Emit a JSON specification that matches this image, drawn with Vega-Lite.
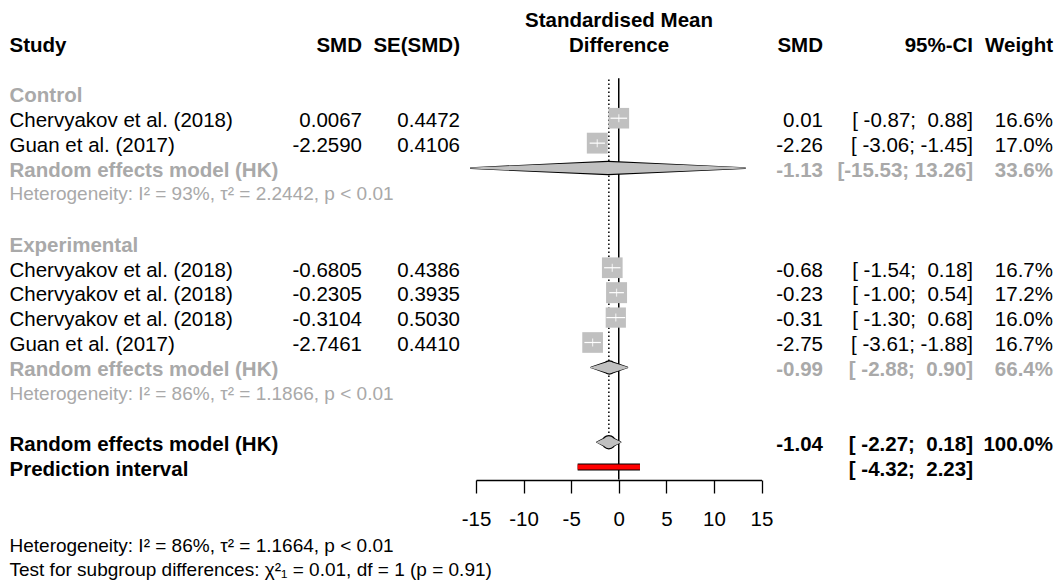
{
  "$schema": "https://vega.github.io/schema/vega-lite/v6.json",
  "width": 1063,
  "height": 586,
  "autosize": {"type": "fit", "contains": "padding"},
  "padding": 0,
  "background": "#ffffff",
  "config": {"view": {"stroke": null}, "font": "Liberation Sans"},
  "datasets": {
    "studies": [
      {"r": 1, "study": "Chervyakov et al. (2018)", "est": 0.0067, "lo": -0.87, "hi": 0.88, "w": 16.6},
      {"r": 2, "study": "Guan et al. (2017)", "est": -2.259, "lo": -3.06, "hi": -1.45, "w": 17.0},
      {"r": 7, "study": "Chervyakov et al. (2018)", "est": -0.6805, "lo": -1.54, "hi": 0.18, "w": 16.7},
      {"r": 8, "study": "Chervyakov et al. (2018)", "est": -0.2305, "lo": -1.0, "hi": 0.54, "w": 17.2},
      {"r": 9, "study": "Chervyakov et al. (2018)", "est": -0.3104, "lo": -1.3, "hi": 0.68, "w": 16.0},
      {"r": 10, "study": "Guan et al. (2017)", "est": -2.7461, "lo": -3.61, "hi": -1.88, "w": 16.7}
    ],
    "pooled": [
      {"r": 3, "k": "subtotal", "est": -1.13, "lo": -15.53, "hi": 13.26},
      {"r": 11, "k": "subtotal", "est": -0.99, "lo": -2.88, "hi": 0.9},
      {"r": 14, "k": "total", "est": -1.04, "lo": -2.27, "hi": 0.18}
    ],
    "pred": [
      {"r": 15, "lo": -4.32, "hi": 2.23}
    ],
    "cells": [
      {"r": -3, "c": 3, "t": "Standardised Mean", "k": "header"},
      {"r": -2, "c": 0, "t": "Study", "k": "header"},
      {"r": -2, "c": 1, "t": "SMD", "k": "header"},
      {"r": -2, "c": 2, "t": "SE(SMD)", "k": "header"},
      {"r": -2, "c": 3, "t": "Difference", "k": "header"},
      {"r": -2, "c": 4, "t": "SMD", "k": "header"},
      {"r": -2, "c": 5, "t": "95%-CI", "k": "header"},
      {"r": -2, "c": 6, "t": "Weight", "k": "header"},
      {"r": 0, "c": 0, "t": "Control", "k": "group"},
      {"r": 1, "c": 0, "t": "Chervyakov et al. (2018)", "k": "study"},
      {"r": 1, "c": 1, "t": "0.0067", "k": "study"},
      {"r": 1, "c": 2, "t": "0.4472", "k": "study"},
      {"r": 1, "c": 4, "t": "0.01", "k": "study"},
      {"r": 1, "c": 5, "t": "[\u00a0-0.87;\u00a0\u00a00.88]", "k": "study"},
      {"r": 1, "c": 6, "t": "16.6%", "k": "study"},
      {"r": 2, "c": 0, "t": "Guan et al. (2017)", "k": "study"},
      {"r": 2, "c": 1, "t": "-2.2590", "k": "study"},
      {"r": 2, "c": 2, "t": "0.4106", "k": "study"},
      {"r": 2, "c": 4, "t": "-2.26", "k": "study"},
      {"r": 2, "c": 5, "t": "[\u00a0-3.06;\u00a0-1.45]", "k": "study"},
      {"r": 2, "c": 6, "t": "17.0%", "k": "study"},
      {"r": 3, "c": 0, "t": "Random effects model (HK)", "k": "subtotal"},
      {"r": 3, "c": 4, "t": "-1.13", "k": "subtotal"},
      {"r": 3, "c": 5, "t": "[-15.53;\u00a013.26]", "k": "subtotal"},
      {"r": 3, "c": 6, "t": "33.6%", "k": "subtotal"},
      {"r": 4, "c": 0, "t": "Heterogeneity: I² = 93%, τ² = 2.2442, p < 0.01", "k": "subhet"},
      {"r": 6, "c": 0, "t": "Experimental", "k": "group"},
      {"r": 7, "c": 0, "t": "Chervyakov et al. (2018)", "k": "study"},
      {"r": 7, "c": 1, "t": "-0.6805", "k": "study"},
      {"r": 7, "c": 2, "t": "0.4386", "k": "study"},
      {"r": 7, "c": 4, "t": "-0.68", "k": "study"},
      {"r": 7, "c": 5, "t": "[\u00a0-1.54;\u00a0\u00a00.18]", "k": "study"},
      {"r": 7, "c": 6, "t": "16.7%", "k": "study"},
      {"r": 8, "c": 0, "t": "Chervyakov et al. (2018)", "k": "study"},
      {"r": 8, "c": 1, "t": "-0.2305", "k": "study"},
      {"r": 8, "c": 2, "t": "0.3935", "k": "study"},
      {"r": 8, "c": 4, "t": "-0.23", "k": "study"},
      {"r": 8, "c": 5, "t": "[\u00a0-1.00;\u00a0\u00a00.54]", "k": "study"},
      {"r": 8, "c": 6, "t": "17.2%", "k": "study"},
      {"r": 9, "c": 0, "t": "Chervyakov et al. (2018)", "k": "study"},
      {"r": 9, "c": 1, "t": "-0.3104", "k": "study"},
      {"r": 9, "c": 2, "t": "0.5030", "k": "study"},
      {"r": 9, "c": 4, "t": "-0.31", "k": "study"},
      {"r": 9, "c": 5, "t": "[\u00a0-1.30;\u00a0\u00a00.68]", "k": "study"},
      {"r": 9, "c": 6, "t": "16.0%", "k": "study"},
      {"r": 10, "c": 0, "t": "Guan et al. (2017)", "k": "study"},
      {"r": 10, "c": 1, "t": "-2.7461", "k": "study"},
      {"r": 10, "c": 2, "t": "0.4410", "k": "study"},
      {"r": 10, "c": 4, "t": "-2.75", "k": "study"},
      {"r": 10, "c": 5, "t": "[\u00a0-3.61;\u00a0-1.88]", "k": "study"},
      {"r": 10, "c": 6, "t": "16.7%", "k": "study"},
      {"r": 11, "c": 0, "t": "Random effects model (HK)", "k": "subtotal"},
      {"r": 11, "c": 4, "t": "-0.99", "k": "subtotal"},
      {"r": 11, "c": 5, "t": "[\u00a0-2.88;\u00a0\u00a00.90]", "k": "subtotal"},
      {"r": 11, "c": 6, "t": "66.4%", "k": "subtotal"},
      {"r": 12, "c": 0, "t": "Heterogeneity: I² = 86%, τ² = 1.1866, p < 0.01", "k": "subhet"},
      {"r": 14, "c": 0, "t": "Random effects model (HK)", "k": "total"},
      {"r": 14, "c": 4, "t": "-1.04", "k": "total"},
      {"r": 14, "c": 5, "t": "[\u00a0-2.27;\u00a0\u00a00.18]", "k": "total"},
      {"r": 14, "c": 6, "t": "100.0%", "k": "total"},
      {"r": 15, "c": 0, "t": "Prediction interval", "k": "pred"},
      {"r": 15, "c": 5, "t": "[\u00a0-4.32;\u00a0\u00a02.23]", "k": "pred"},
      {"r": 18.1, "c": 0, "t": "Heterogeneity: I² = 86%, τ² = 1.1664, p < 0.01", "k": "footer"},
      {"r": 19.05, "c": 0, "t": "Test for subgroup differences: χ²₁ = 0.01, df = 1 (p = 0.91)", "k": "footer"}
    ]
  },
  "resolve": {"scale": {"x": "independent", "size": "independent", "color": "independent"}},
  "layer": [
    {
      "data": {"values": [{"ref": 0}]},
      "mark": {"type": "rule", "color": "#000000", "strokeWidth": 1.5},
      "encoding": {
        "x": {"field": "ref", "type": "quantitative", "scale": {"domain": [-15, 15], "range": [476, 761.5], "nice": false, "zero": false}, "axis": null},
        "y": {"datum": -0.6, "type": "quantitative", "scale": {"domain": [-4, 20], "range": [-6.38, 591.7], "nice": false, "zero": false}, "axis": null},
        "y2": {"datum": 15.5}
      }
    },
    {
      "data": {"name": "pooled"},
      "transform": [{"filter": "datum.k == 'total'"}],
      "mark": {"type": "rule", "color": "#000000", "strokeWidth": 1.5, "strokeDash": [1.5, 2.5]},
      "encoding": {
        "x": {"field": "est", "type": "quantitative", "scale": {"domain": [-15, 15], "range": [476, 761.5], "nice": false, "zero": false}, "axis": null},
        "y": {"datum": -0.55, "type": "quantitative"},
        "y2": {"datum": 13.72}
      }
    },
    {
      "data": {"name": "studies"},
      "mark": {"type": "square", "filled": true, "color": "#c0c0c0", "opacity": 1},
      "encoding": {
        "x": {"field": "est", "type": "quantitative", "scale": {"domain": [-15, 15], "range": [476, 761.5], "nice": false, "zero": false},
          "axis": {"values": [-15, -10, -5, 0, 5, 10, 15], "orient": "bottom", "offset": -106, "title": null, "grid": false,
            "domainColor": "#000000", "domainWidth": 1.3, "tickColor": "#000000", "tickWidth": 1.3, "tickSize": 13,
            "labelFont": "Liberation Sans", "labelFontSize": 20.5, "labelColor": "#000000", "labelPadding": 16,
            "labelExpr": "'' + datum.value",
            "labelFlush": false, "labelOverlap": false}},
        "y": {"field": "r", "type": "quantitative"},
        "size": {"field": "w", "type": "quantitative", "scale": {"domain": [0, 20], "range": [0, 512]}, "legend": null}
      }
    },
    {
      "data": {"name": "studies"},
      "mark": {"type": "rule", "color": "#ffffff", "strokeWidth": 1.2},
      "encoding": {
        "x": {"field": "lo", "type": "quantitative", "scale": {"domain": [-15, 15], "range": [476, 761.5], "nice": false, "zero": false}, "axis": null},
        "x2": {"field": "hi"},
        "y": {"field": "r", "type": "quantitative"}
      }
    },
    {
      "data": {"name": "studies"},
      "mark": {"type": "tick", "orient": "vertical", "color": "#ffffff", "size": 8, "thickness": 1.2},
      "encoding": {
        "x": {"field": "est", "type": "quantitative", "scale": {"domain": [-15, 15], "range": [476, 761.5], "nice": false, "zero": false}, "axis": null},
        "y": {"field": "r", "type": "quantitative"}
      }
    },
    {
      "data": {"name": "pooled"},
      "transform": [{"fold": ["lo", "est", "hi"], "as": ["pt", "v"]}],
      "mark": {"type": "trail", "color": "#000000"},
      "encoding": {
        "x": {"field": "v", "type": "quantitative", "scale": {"domain": [-15, 15], "range": [476, 761.5], "nice": false, "zero": false}, "axis": null},
        "y": {"field": "r", "type": "quantitative"},
        "detail": {"field": "r", "type": "nominal"},
        "size": {"condition": {"test": "datum.pt == 'est'", "value": 14.5}, "value": 1.8}
      }
    },
    {
      "data": {"name": "pooled"},
      "transform": [{"fold": ["lo", "est", "hi"], "as": ["pt", "v"]}],
      "mark": {"type": "trail", "color": "#c0c0c0"},
      "encoding": {
        "x": {"field": "v", "type": "quantitative", "scale": {"domain": [-15, 15], "range": [476, 761.5], "nice": false, "zero": false}, "axis": null},
        "y": {"field": "r", "type": "quantitative"},
        "detail": {"field": "r", "type": "nominal"},
        "size": {"condition": {"test": "datum.pt == 'est'", "value": 12}, "value": 0}
      }
    },
    {
      "data": {"name": "pred"},
      "mark": {"type": "rule", "color": "#000000", "strokeWidth": 7, "strokeCap": "butt"},
      "encoding": {
        "x": {"field": "lo", "type": "quantitative", "scale": {"domain": [-15, 15], "range": [476, 761.5], "nice": false, "zero": false}, "axis": null},
        "x2": {"field": "hi"},
        "y": {"field": "r", "type": "quantitative"}
      }
    },
    {
      "data": {"name": "pred"},
      "mark": {"type": "rule", "color": "#ff0000", "strokeWidth": 5, "strokeCap": "butt"},
      "encoding": {
        "x": {"field": "lo", "type": "quantitative", "scale": {"domain": [-15, 15], "range": [476, 761.5], "nice": false, "zero": false}, "axis": null},
        "x2": {"field": "hi"},
        "y": {"field": "r", "type": "quantitative"}
      }
    },
    {
      "data": {"name": "cells"},
      "transform": [{"filter": "datum.c == 0 && datum.k == 'study'"}],
      "mark": {"type": "text", "align": "left", "baseline": "alphabetic", "dy": 8.8, "fontSize": 20.5, "font": "Liberation Sans", "fontWeight": "normal", "color": "#000000"},
      "encoding": {
        "x": {"field": "c", "type": "quantitative", "scale": {"domain": [0, 1, 2, 3, 4, 5, 6], "range": [9.5, 362, 460, 619, 823, 973, 1053], "nice": false, "zero": false}, "axis": null},
        "y": {"field": "r", "type": "quantitative"},
        "text": {"field": "t"}
      }
    },
    {
      "data": {"name": "cells"},
      "transform": [{"filter": "datum.c == 0 && (datum.k == 'subhet' || datum.k == 'footer')"}],
      "mark": {"type": "text", "align": "left", "baseline": "alphabetic", "dy": 7.5, "fontSize": 19, "font": "Liberation Sans", "fontWeight": "normal"},
      "encoding": {
        "x": {"field": "c", "type": "quantitative", "scale": {"domain": [0, 1, 2, 3, 4, 5, 6], "range": [9.5, 362, 460, 619, 823, 973, 1053], "nice": false, "zero": false}, "axis": null},
        "y": {"field": "r", "type": "quantitative"},
        "text": {"field": "t"},
        "color": {"condition": {"test": "datum.k == 'subhet'", "value": "#a9a9a9"}, "value": "#000000"}
      }
    },
    {
      "data": {"name": "cells"},
      "transform": [{"filter": "datum.c == 0 && datum.k != 'study' && datum.k != 'subhet' && datum.k != 'footer'"}],
      "mark": {"type": "text", "align": "left", "baseline": "alphabetic", "dy": 8.8, "fontSize": 20.5, "font": "Liberation Sans", "fontWeight": "bold"},
      "encoding": {
        "x": {"field": "c", "type": "quantitative", "scale": {"domain": [0, 1, 2, 3, 4, 5, 6], "range": [9.5, 362, 460, 619, 823, 973, 1053], "nice": false, "zero": false}, "axis": null},
        "y": {"field": "r", "type": "quantitative"},
        "text": {"field": "t"},
        "color": {"condition": {"test": "datum.k == 'group' || datum.k == 'subtotal'", "value": "#a9a9a9"}, "value": "#000000"}
      }
    },
    {
      "data": {"name": "cells"},
      "transform": [{"filter": "datum.c != 0 && datum.c != 3 && datum.k == 'study'"}],
      "mark": {"type": "text", "align": "right", "baseline": "alphabetic", "dy": 8.8, "fontSize": 20.5, "font": "Liberation Sans", "fontWeight": "normal", "color": "#000000"},
      "encoding": {
        "x": {"field": "c", "type": "quantitative", "scale": {"domain": [0, 1, 2, 3, 4, 5, 6], "range": [9.5, 362, 460, 619, 823, 973, 1053], "nice": false, "zero": false}, "axis": null},
        "y": {"field": "r", "type": "quantitative"},
        "text": {"field": "t"}
      }
    },
    {
      "data": {"name": "cells"},
      "transform": [{"filter": "datum.c != 0 && datum.c != 3 && datum.k != 'study'"}],
      "mark": {"type": "text", "align": "right", "baseline": "alphabetic", "dy": 8.8, "fontSize": 20.5, "font": "Liberation Sans", "fontWeight": "bold"},
      "encoding": {
        "x": {"field": "c", "type": "quantitative", "scale": {"domain": [0, 1, 2, 3, 4, 5, 6], "range": [9.5, 362, 460, 619, 823, 973, 1053], "nice": false, "zero": false}, "axis": null},
        "y": {"field": "r", "type": "quantitative"},
        "text": {"field": "t"},
        "color": {"condition": {"test": "datum.k == 'subtotal'", "value": "#a9a9a9"}, "value": "#000000"}
      }
    },
    {
      "data": {"name": "cells"},
      "transform": [{"filter": "datum.c == 3"}],
      "mark": {"type": "text", "align": "center", "baseline": "alphabetic", "dy": 8.8, "fontSize": 20.5, "font": "Liberation Sans", "fontWeight": "bold", "color": "#000000"},
      "encoding": {
        "x": {"field": "c", "type": "quantitative", "scale": {"domain": [0, 1, 2, 3, 4, 5, 6], "range": [9.5, 362, 460, 619, 823, 973, 1053], "nice": false, "zero": false}, "axis": null},
        "y": {"field": "r", "type": "quantitative"},
        "text": {"field": "t"}
      }
    }
  ]
}
